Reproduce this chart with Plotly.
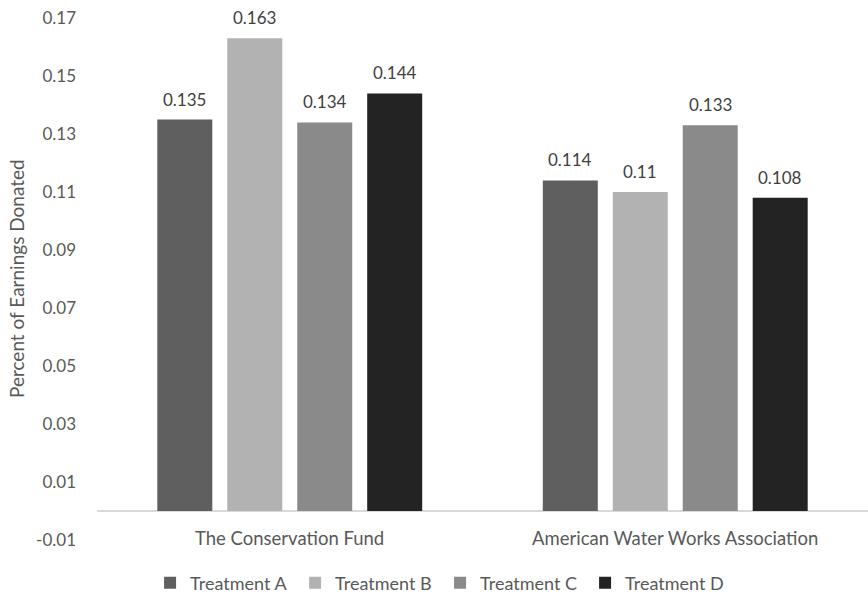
import plotly.graph_objects as go

categories = ["The Conservation Fund", "American Water Works Association"]
treatments = ["Treatment A", "Treatment B", "Treatment C", "Treatment D"]
values_a = [0.135, 0.114]
values_b = [0.163, 0.110]
values_c = [0.134, 0.133]
values_d = [0.144, 0.108]
tick_vals = [-0.01, 0.01, 0.03, 0.05, 0.07, 0.09, 0.11, 0.13, 0.15, 0.17]
tick_text = ["-0.01", "0.01", "0.03", "0.05", "0.07", "0.09", "0.11", "0.13", "0.15", "0.17"]
y_title = "Percent of Earnings Donated"

series = [values_a, values_b, values_c, values_d]
colors = ["#5f5f5f", "#b2b2b2", "#8a8a8a", "#232323"]
FONT = "Lato"
TXT = "#595959"

fig = go.Figure()
for name, vals, col in zip(treatments, series, colors):
    fig.add_trace(go.Bar(name=name, x=categories, y=vals, marker_color=col,
                         marker_line_width=0))

W, H = 868, 593
ml, mr, mt, mb = 97, 0, 18, 53
plot_w = W - ml - mr
cat_w = plot_w / len(categories)
bargap = 0.274
slot = cat_w * (1 - bargap) / len(series)

annotations = []
for i, vals in enumerate(series):
    for c, v in zip(categories, vals):
        annotations.append(dict(x=c, y=v, xref="x", yref="y", text=f"{v:g}",
                                showarrow=False, yanchor="bottom", yshift=8,
                                xshift=(i - (len(series) - 1) / 2) * slot,
                                font=dict(family=FONT, size=17, color="#404040")))
for c in categories:
    annotations.append(dict(x=c, y=tick_vals[0], xref="x", yref="y", text=c,
                            showarrow=False, yanchor="middle", yshift=2,
                            font=dict(family=FONT, size=18.5, color=TXT)))
annotations.append(dict(x=-(ml - 16) / plot_w, y=0.5, xref="paper", yref="paper",
                        text=y_title, textangle=-90, showarrow=False,
                        xanchor="center", yanchor="middle",
                        font=dict(family=FONT, size=19, color=TXT)))

fig.update_layout(
    width=W, height=H,
    margin=dict(l=ml, r=mr, t=mt, b=mb),
    paper_bgcolor="white", plot_bgcolor="white",
    barmode="group", bargap=bargap, bargroupgap=0.214,
    font=dict(family=FONT, size=17, color=TXT),
    showlegend=True,
    legend=dict(orientation="h", xref="container", x=0.507, xanchor="center",
                yref="container", y=(H - 583) / H, yanchor="middle",
                entrywidth=100, entrywidthmode="pixels",
                font=dict(family=FONT, size=18, color=TXT)),
    annotations=annotations,
)
fig.update_xaxes(showticklabels=False, showgrid=False, showline=False, ticks="")
fig.update_yaxes(range=[tick_vals[0], tick_vals[-1]], tickvals=tick_vals, ticktext=tick_text,
                 showgrid=False, showline=False, ticks="", ticklabelstandoff=20,
                 zeroline=True, zerolinecolor="#d9d9d9", zerolinewidth=1.5,
                 tickfont=dict(family=FONT, size=17, color=TXT))

fig.write_html("out.html")
